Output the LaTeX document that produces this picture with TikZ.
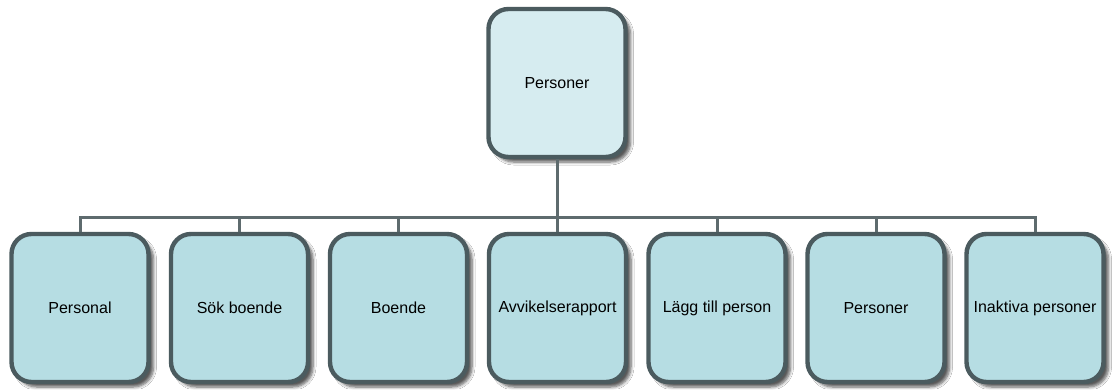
\documentclass[tikz,border=0pt]{standalone}
\usepackage{fontspec}
\setmainfont{Liberation Sans}
\usetikzlibrary{shadows.blur}
\definecolor{edge}{HTML}{4B5B5F}
\definecolor{topfill}{HTML}{D6ECF0}
\definecolor{subfill}{HTML}{B6DDE3}
\definecolor{wire}{HTML}{5E6B6E}
\tikzset{
  x=1pt, y=-1pt,
  card/.style={draw=edge, line width=4.4pt, rounded corners=20pt,
    minimum width=137pt, minimum height=148pt, inner sep=0pt,
    font=\fontsize{16}{19}\selectfont,
    blur shadow={shadow xshift=5pt, shadow yshift=-5pt, shadow blur steps=6,
      shadow blur radius=3pt, shadow opacity=65}},
  topcard/.style={card, fill=topfill},
  subcard/.style={card, fill=subfill},
  wirestyle/.style={draw=wire, line width=3pt}
}
\begin{document}
\begin{tikzpicture}
\useasboundingbox (0,0) rectangle (1113,389);
\fill[white] (0,0) rectangle (1113,389);
\node[topcard] (root) at (557,83) {\raisebox{-3pt}{Personer}};
\node[subcard] (c1) at (80,308) {Personal};
\node[subcard] (c2) at (239.5,308) {Sök boende};
\node[subcard] (c3) at (398.5,308) {Boende};
\node[subcard] (c4) at (557.5,308) {Avvikelserapport};
\node[subcard] (c5) at (717,308) {Lägg till person};
\node[subcard] (c6) at (876,308) {Personer};
\node[subcard] (c7) at (1035,308) {Inaktiva personer};
\coordinate (bus) at (557,217);
% vertical trunk, horizontal bus and the drops to each child
\draw[wirestyle] (root.south) -- (bus);
\draw[wirestyle] (c1.north) |- (bus) -| (c7.north);
\foreach \c in {c2,c3,c4,c5,c6} \draw[wirestyle] (\c.north) -- (\c.north |- bus);
\end{tikzpicture}
\end{document}
